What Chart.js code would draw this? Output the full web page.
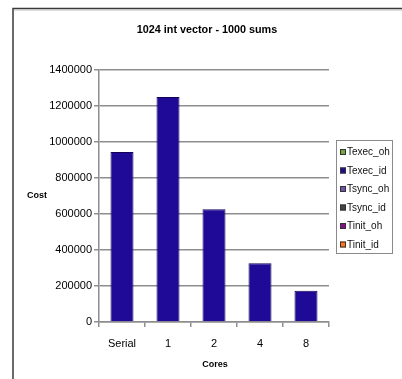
<!DOCTYPE html>
<html>
<head>
<meta charset="utf-8">
<script src="https://cdn.jsdelivr.net/npm/chart.js@4/dist/chart.umd.min.js"></script>
<style>
  html, body { margin: 0; padding: 0; background: #fff; }
  canvas { display: block; }
</style>
</head>
<body>
<canvas id="c" width="402" height="379"></canvas>
<script>
// Cost per configuration for a 1024-int vector summed 1000 times
const categories = ['Serial', '1', '2', '4', '8'];
const seriesNames = ['Texec_oh', 'Texec_id', 'Tsync_oh', 'Tsync_id', 'Tinit_oh', 'Tinit_id'];
const texecOh = [0, 0, 0, 0, 0];
const texecId = [945000, 1250000, 627000, 326000, 174000];
const tsyncOh = [0, 0, 0, 0, 0];
const tsyncId = [0, 0, 0, 0, 0];
const tinitOh = [0, 0, 0, 0, 0];
const tinitId = [0, 0, 0, 0, 0];
const yTicks = [0, 200000, 400000, 600000, 800000, 1000000, 1200000, 1400000];

const seriesColors = ['#72a83a', '#1e0a96', '#7052ac', '#444444', '#84108a', '#ff7418'];
const seriesValues = [texecOh, texecId, tsyncOh, tsyncId, tinitOh, tinitId];

const FONT = '"Liberation Sans", Arial, sans-serif';
const GRID = '#8e8e8e';

const datasets = seriesNames.map((name, i) => ({
  label: name,
  data: seriesValues[i],
  backgroundColor: seriesColors[i],
  borderColor: i === 1 ? '#14005a' : seriesColors[i],
  borderWidth: i === 1 ? 1 : 0,
  categoryPercentage: 0.5,
  barPercentage: 1.0
}));

// Frame, title, axis titles and the boxed legend
const decorations = {
  id: 'decorations',
  afterDraw(chart) {
    const ctx = chart.ctx;
    const area = chart.chartArea;
    ctx.save();
    // outer frame (left and top edges)
    ctx.strokeStyle = '#3a3a3a';
    ctx.lineWidth = 1.5;
    ctx.beginPath();
    ctx.moveTo(13, 379);
    ctx.lineTo(13, 8.5);
    ctx.lineTo(402, 8.5);
    ctx.stroke();
    ctx.strokeStyle = '#bbbbbb';
    ctx.lineWidth = 1;
    ctx.beginPath();
    ctx.moveTo(14, 10);
    ctx.lineTo(402, 10);
    ctx.stroke();

    // title
    ctx.fillStyle = '#000';
    ctx.textAlign = 'center';
    ctx.textBaseline = 'middle';
    ctx.font = 'bold 10.8px ' + FONT;
    ctx.fillText('1024 int vector - 1000 sums', 207, 30);

    // axis titles
    ctx.font = 'bold 9px ' + FONT;
    ctx.fillText('Cost', 37, 196);
    ctx.fillText('Cores', (area.left + area.right) / 2 + 1, 365);

    // legend
    const lx = 336, ly = 140, lw = 56, lh = 113;
    ctx.strokeStyle = '#8a8a8a';
    ctx.lineWidth = 1;
    ctx.strokeRect(lx + 0.5, ly + 0.5, lw, lh);
    ctx.textAlign = 'left';
    ctx.font = '10px ' + FONT;
    chart.data.datasets.forEach((ds, i) => {
      const y = 152 + i * 18.5;
      ctx.fillStyle = ds.backgroundColor;
      ctx.fillRect(340, y - 3, 6, 6);
      ctx.strokeStyle = '#333';
      ctx.strokeRect(340.5, y - 2.5, 5, 5);
      ctx.fillStyle = '#111';
      ctx.fillText(ds.label, 347, y + 0.5);
    });
    ctx.restore();
  }
};

new Chart(document.getElementById('c'), {
  type: 'bar',
  data: { labels: categories, datasets },
  options: {
    responsive: false,
    animation: false,
    layout: { padding: { left: 0, top: 70, right: 73, bottom: 0 } },
    plugins: {
      legend: { display: false },
      title: { display: false },
      tooltip: { enabled: false }
    },
    scales: {
      x: {
        stacked: true,
        afterFit(s) { s.height = 57; },
        grid: {
          offset: true,
          drawOnChartArea: false,
          drawTicks: true,
          tickLength: 5,
          color: GRID,
          lineWidth: 1.5
        },
        border: { display: true, color: GRID, width: 1.5 },
        ticks: {
          color: '#000',
          font: { family: FONT, size: 11 },
          padding: 10,
          maxRotation: 0
        }
      },
      y: {
        stacked: true,
        min: 0,
        max: 1400000,
        afterFit(s) { s.width = 99; },
        afterBuildTicks(s) { s.ticks = yTicks.map(v => ({ value: v })); },
        grid: {
          color: GRID,
          lineWidth: 1.5,
          tickLength: 5
        },
        border: { display: true, color: GRID, width: 1.5 },
        ticks: {
          color: '#000',
          font: { family: FONT, size: 11 },
          padding: 2,
          callback: v => String(v)
        }
      }
    }
  },
  plugins: [decorations]
});
</script>
</body>
</html>
